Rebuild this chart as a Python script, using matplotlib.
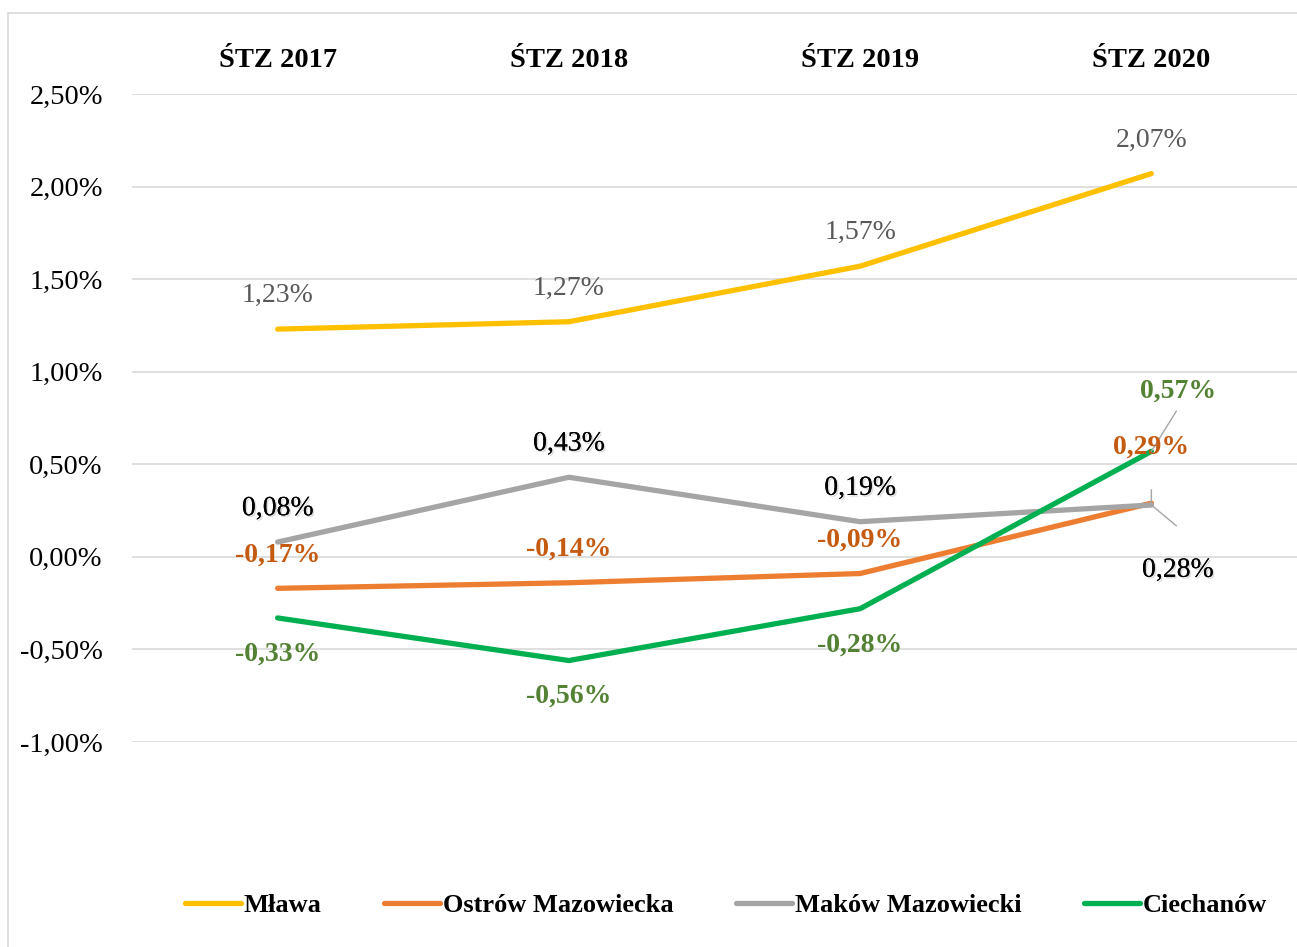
import matplotlib
matplotlib.use("Agg")
import matplotlib.pyplot as plt
import matplotlib.patheffects as pe
from matplotlib.patches import Rectangle

plt.rcParams['font.family'] = ['Liberation Serif', 'DejaVu Serif']

# dane
categories = ['ŚTZ 2017', 'ŚTZ 2018', 'ŚTZ 2019', 'ŚTZ 2020']
mlawa = [1.23, 1.27, 1.57, 2.07]
ostrow = [-0.17, -0.14, -0.09, 0.29]
makow = [0.08, 0.43, 0.19, 0.28]
ciechanow = [-0.33, -0.56, -0.28, 0.57]
yticks = [-1.0, -0.5, 0.0, 0.5, 1.0, 1.5, 2.0, 2.5]

def pct(v):
    return ('%.2f%%' % v).replace('.', ',')

fig = plt.figure(figsize=(12.97, 9.47), dpi=100)
ax = fig.add_axes([132/1297, 1-742/947, 1-132/1297, (742-94)/947])

x = list(range(len(categories)))
series = [
    ('Mława', mlawa, '#FFC000'),
    ('Ostrów Mazowiecka', ostrow, '#ED7D31'),
    ('Maków Mazowiecki', makow, '#A5A5A5'),
    ('Ciechanów', ciechanow, '#00B050'),
]
for name, vals, col in series:
    ax.plot(x, vals, color=col, lw=3.8, label=name, solid_capstyle='round', zorder=3)

ax.set_xlim(-0.5, 3.5)
ax.set_ylim(-1.0, 2.5)
ax.set_yticks(yticks)
ax.set_yticklabels([pct(v) for v in yticks], fontsize=20.5)
ax.set_xticks(x)
ax.set_xticklabels(categories, fontsize=20.5, fontweight='bold')
ax.xaxis.tick_top()
ax.tick_params(axis='x', length=0, pad=15)
ax.tick_params(axis='y', length=0, pad=21)
ax.grid(axis='y', color='#D9D9D9', lw=1.2)
for s in ax.spines.values():
    s.set_visible(False)

shadow = [pe.withSimplePatchShadow(offset=(1.2, -1.2), shadow_rgbFace='#CCCCCC', alpha=0.7), pe.Normal()]
leader = dict(arrowstyle='-', color='#A5A5A5', lw=1, shrinkA=0, shrinkB=0)

# etykiety
for i, v in enumerate(mlawa):
    ax.annotate(pct(v), (i, v), xytext=(0, 24), textcoords='offset points',
                ha='center', va='center', fontsize=20, color='#595959')
for i, v in enumerate(ostrow):
    off = (0, 24) if i < 3 else (0, 40)
    ax.annotate(pct(v), (i, v), xytext=off, textcoords='offset points',
                ha='center', va='center', fontsize=20, color='#C55A11', fontweight='bold', zorder=5)
for i, v in enumerate(makow):
    if i < 3:
        ax.annotate(pct(v), (i, v), xytext=(0, 24), textcoords='offset points',
                    ha='center', va='center', fontsize=20, color='black', path_effects=shadow)
    else:
        ax.annotate(pct(v), (i, v), xytext=(19, -47), textcoords='offset points',
                    ha='center', va='center', fontsize=20, color='black', path_effects=shadow)
        ax.annotate('', (i, v), xytext=(18, -15), textcoords='offset points', arrowprops=leader)
        ax.annotate('', (i, v), xytext=(0, 11), textcoords='offset points', arrowprops=leader)
for i, v in enumerate(ciechanow):
    if i < 3:
        ax.annotate(pct(v), (i, v), xytext=(0, -26), textcoords='offset points',
                    ha='center', va='center', fontsize=20, color='#548235', fontweight='bold')
    else:
        ax.annotate(pct(v), (i, v), xytext=(19, 43), textcoords='offset points',
                    ha='center', va='center', fontsize=20, color='#548235', fontweight='bold')
        ax.annotate('', (i, v), xytext=(18, 29), textcoords='offset points', arrowprops=leader)

fig.legend(loc='center', bbox_to_anchor=(726/1297, 1-905/947), ncol=4, frameon=False,
           prop={'size': 19, 'weight': 'bold'}, handlelength=2.1, handletextpad=0.1,
           columnspacing=2.4)

fig.patches.append(Rectangle((8/1297, -0.01), 1.0, 1.01-13/947, transform=fig.transFigure,
                             fill=False, edgecolor='#D9D9D9', lw=1.2))

fig.savefig('out.png', dpi=100)
